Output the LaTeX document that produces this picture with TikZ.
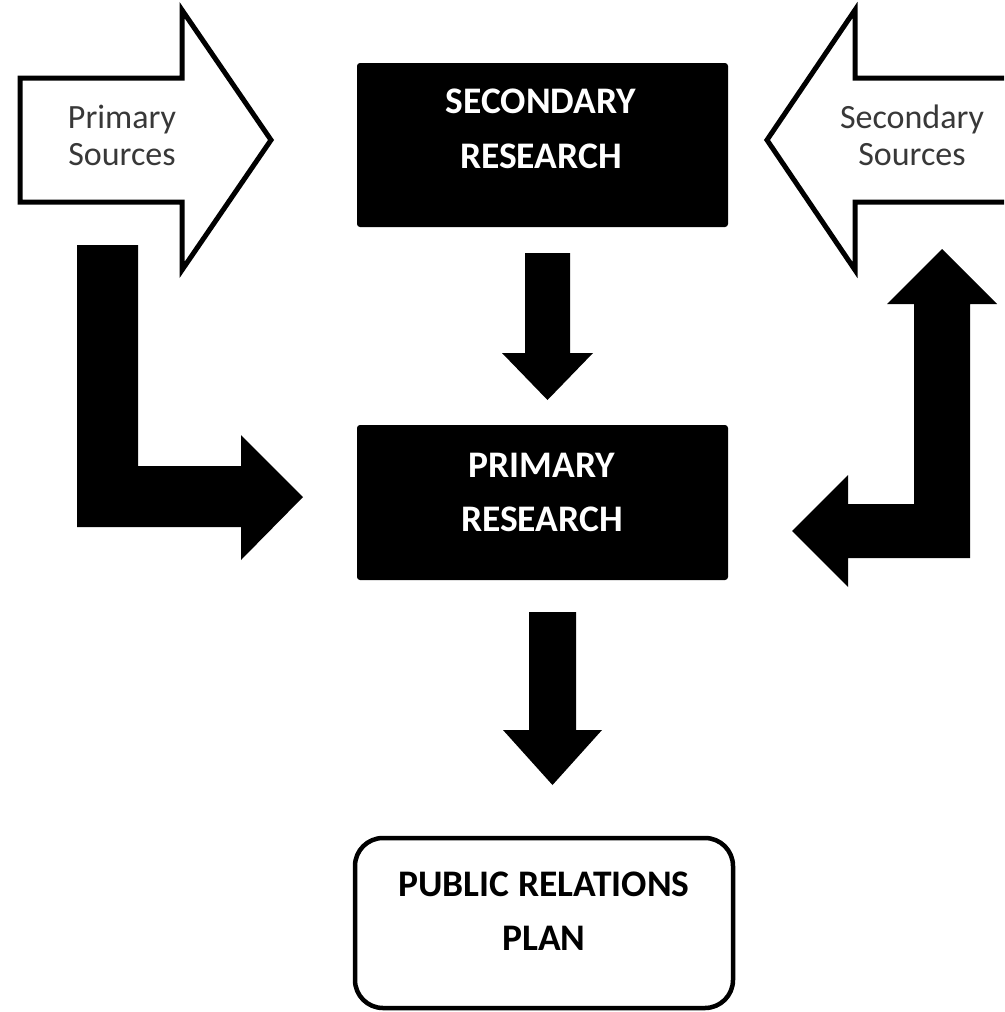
\documentclass[tikz,border=0pt]{standalone}
\usepackage{fontspec}
\setmainfont{Carlito}
\begin{document}
\begin{tikzpicture}[x=1pt,y=-1pt,
  blockout/.style={draw=black,line width=5pt,fill=white,line join=miter},
  blockfill/.style={fill=black,draw=none},
  darkbox/.style={fill=black,draw=none,rounded corners=3pt,inner sep=0pt},
  planbox/.style={draw=black,line width=4.5pt,fill=white,rounded corners=28pt,inner sep=0pt},
  boxtext/.style={font=\fontsize{37.5}{44}\selectfont\bfseries,anchor=base,inner sep=0pt},
  sidetext/.style={font=\fontsize{34}{40}\selectfont,text=black!78,anchor=base,inner sep=0pt}]
\useasboundingbox (0,0) rectangle (1004,1012);
\clip (0,0) rectangle (1004,1012);
% boxes
\node[darkbox,minimum width=371pt,minimum height=164pt] (sec) at (542.5,145) {};
\node[darkbox,minimum width=371pt,minimum height=155pt] (pri) at (542.5,502.5) {};
\node[planbox,minimum width=378pt,minimum height=170pt] (plan) at (544,923) {};
% box texts
\node[boxtext,text=white] (sec1) at (541,113) {SECONDARY};
\node[boxtext,text=white] (sec2) at (541,168) {RESEARCH};
\node[boxtext,text=white] (pri1) at (542,477) {PRIMARY};
\node[boxtext,text=white] (pri2) at (542,531) {RESEARCH};
\node[boxtext,text=black] (plan1) at (544,896) {PUBLIC RELATIONS};
\node[boxtext,text=black] (plan2) at (544,950) {PLAN};
% left outlined block arrow
\draw[blockout] (20,78) -- (182,78) -- (182,10) -- (271,140) -- (182,270) -- (182,202) -- (20,202) -- cycle;
\node[sidetext] (ps1) at (122,128) {Primary};
\node[sidetext] (ps2) at (122,165) {Sources};
% right outlined block arrow
\draw[blockout] (1015,78) -- (855,78) -- (855,10) -- (767,140) -- (855,270) -- (855,202) -- (1015,202);
\node[sidetext] (ss1) at (912,128) {Secondary};
\node[sidetext] (ss2) at (912,165) {Sources};
% down arrows
\fill[blockfill] (525,253) -- (570,253) -- (570,353) -- (593,353) -- (547.5,400) -- (502,353) -- (525,353) -- cycle;
\fill[blockfill] (529,612) -- (576,612) -- (576,730) -- (602,730) -- (552.5,785) -- (503,730) -- (529,730) -- cycle;
% L arrow left
\fill[blockfill] (77,245) -- (138,245) -- (138,466) -- (241,466) -- (241,435) -- (303,497) -- (241,560) -- (241,527) -- (77,527) -- cycle;
% J arrow right
\fill[blockfill] (942,249) -- (997,304) -- (970,304) -- (970,558) -- (848,558) -- (848,587) -- (792,531) -- (848,475) -- (848,504) -- (914,504) -- (914,304) -- (887,304) -- cycle;
\end{tikzpicture}
\end{document}
